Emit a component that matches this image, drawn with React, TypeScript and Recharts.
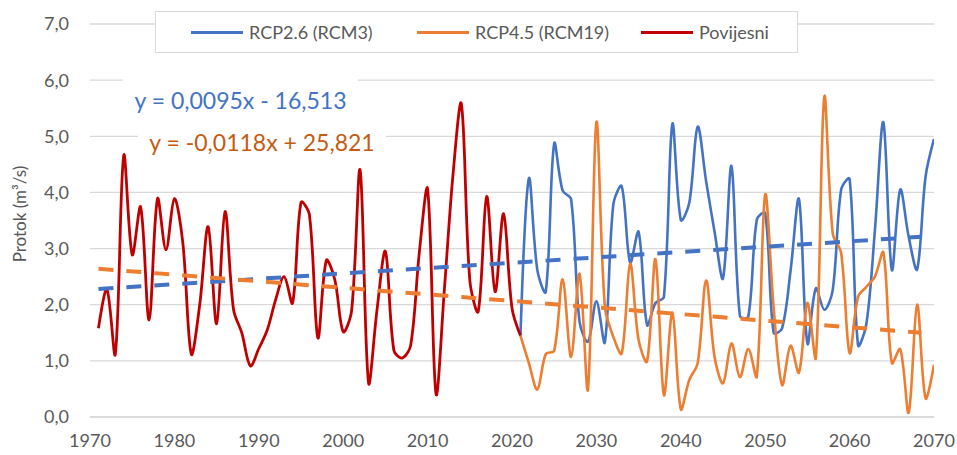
import React from "react";
import { LineChart, Line, XAxis, YAxis, CartesianGrid } from "recharts";

// ---------- data ----------
const histYears = [
  1971, 1972, 1973, 1974, 1975, 1976, 1977, 1978, 1979, 1980,
  1981, 1982, 1983, 1984, 1985, 1986, 1987, 1988, 1989, 1990,
  1991, 1992, 1993, 1994, 1995, 1996, 1997, 1998, 1999, 2000,
  2001, 2002, 2003, 2004, 2005, 2006, 2007, 2008, 2009, 2010,
  2011, 2012, 2013, 2014, 2015, 2016, 2017, 2018, 2019, 2020, 2021,
];
const povijesni = [
  1.58, 2.28, 1.12, 4.66, 2.89, 3.74, 1.73, 3.89, 2.98, 3.89,
  3.1, 1.12, 2.0, 3.39, 1.66, 3.66, 1.92, 1.49, 0.91, 1.22,
  1.55, 2.09, 2.5, 2.03, 3.82, 3.6, 1.41, 2.79, 2.45, 1.52,
  1.9, 4.4, 0.61, 1.9, 2.95, 1.19, 1.05, 1.28, 2.9, 4.06,
  0.41, 2.3, 4.3, 5.58, 2.44, 1.88, 3.93, 2.23, 3.62, 1.94, 1.45,
];

const rcpYears = [
  2021, 2022, 2023, 2024, 2025, 2026, 2027, 2028, 2029, 2030,
  2031, 2032, 2033, 2034, 2035, 2036, 2037, 2038, 2039, 2040,
  2041, 2042, 2043, 2044, 2045, 2046, 2047, 2048, 2049, 2050,
  2051, 2052, 2053, 2054, 2055, 2056, 2057, 2058, 2059, 2060,
  2061, 2062, 2063, 2064, 2065, 2066, 2067, 2068, 2069, 2070,
];
const rcp26 = [
  1.45, 4.25, 2.62, 2.23, 4.87, 4.03, 3.88, 1.7, 1.34, 2.06,
  1.33, 3.78, 4.11, 2.75, 3.3, 1.64, 2.03, 2.14, 5.22, 3.51,
  3.81, 5.17, 4.2, 3.3, 2.47, 4.47, 1.8, 1.79, 3.51, 3.63,
  1.5, 1.58, 2.6, 3.88, 1.31, 2.29, 1.91, 2.26, 4.05, 4.24,
  1.28, 1.67, 3.33, 5.25, 2.62, 4.05, 3.21, 2.63, 4.28, 4.95,
];
const rcp45 = [
  1.45, 0.96, 0.49, 1.12, 1.18, 2.45, 1.07, 2.55, 0.49, 5.25,
  1.97, 1.43, 1.13, 2.73, 1.37, 0.99, 2.81, 0.39, 1.86, 0.14,
  0.66, 0.96, 2.43, 1.07, 0.6, 1.31, 0.71, 1.21, 0.72, 3.96,
  1.95, 0.57, 1.27, 0.79, 2.03, 1.06, 5.7, 3.27, 2.92, 1.14,
  2.14, 2.32, 2.5, 2.93, 0.96, 1.21, 0.08, 2.0, 0.33, 0.93,
];

// trendline end points
const trendYears = [1971, 2068.5];
const trend26 = [2.28, 3.21];
const trend45 = [2.64, 1.5];

const xTicks = [1970, 1980, 1990, 2000, 2010, 2020, 2030, 2040, 2050, 2060, 2070];
const yTicks = [0, 1, 2, 3, 4, 5, 6, 7];

const seriesNames = ["RCP2.6 (RCM3)", "RCP4.5 (RCM19)", "Povijesni"];
const eq26 = "y = 0,0095x - 16,513";
const eq45 = "y = -0,0118x + 25,821";
const yTitle = "Protok (m³/s)";

// ---------- helpers ----------
const zip = (xs: number[], ys: number[]) => xs.map((x, i) => ({ year: x, v: ys[i] }));
const histData = zip(histYears, povijesni);
const rcp26Data = zip(rcpYears, rcp26);
const rcp45Data = zip(rcpYears, rcp45);
const trend26Data = zip(trendYears, trend26);
const trend45Data = zip(trendYears, trend45);

// Excel-like smoothed line: Bezier with chord-length-scaled tangents
function excelSmooth(context: any) {
  let pts: [number, number][] = [];
  const dist = (a: [number, number], b: [number, number]) =>
    Math.hypot(b[0] - a[0], b[1] - a[1]) || 1e-6;
  return {
    areaStart() {},
    areaEnd() {},
    lineStart() {
      pts = [];
    },
    point(x: number, y: number) {
      pts.push([+x, +y]);
    },
    lineEnd() {
      const n = pts.length;
      if (!n) return;
      context.moveTo(pts[0][0], pts[0][1]);
      const k = 0.5;
      for (let i = 0; i < n - 1; i++) {
        const p0 = pts[i - 1] || pts[i];
        const p1 = pts[i];
        const p2 = pts[i + 1];
        const p3 = pts[i + 2] || p2;
        const d01 = dist(p0, p1);
        const d12 = dist(p1, p2);
        const d23 = dist(p2, p3);
        // tangent at p1, control length scaled by chord of this segment
        const f1 = i === 0 ? 0 : (k * d12) / (d01 + d12) * (2 / 3);
        const f2 = i === n - 2 ? 0 : (k * d12) / (d12 + d23) * (2 / 3);
        context.bezierCurveTo(
          p1[0] + (p2[0] - p0[0]) * f1,
          p1[1] + (p2[1] - p0[1]) * f1,
          p2[0] - (p3[0] - p1[0]) * f2,
          p2[1] - (p3[1] - p1[1]) * f2,
          p2[0],
          p2[1]
        );
      }
    },
  };
}

const FONT = "Lato, 'Open Sans', sans-serif";
const GRAY = "#595959";
const BLUE = "#4472C4";
const ORANGE = "#ED7D31";
const RED = "#C00000";

const fmt = (v: number) => v.toFixed(1).replace(".", ",");

export default function App() {
  const legendItems = [
    { name: seriesNames[0], color: BLUE, left: 35 },
    { name: seriesNames[1], color: ORANGE, left: 261 },
    { name: seriesNames[2], color: RED, left: 485 },
  ];
  return (
    <div
      style={{
        position: "absolute",
        left: 0,
        top: 0,
        width: 957,
        height: 455,
        background: "#fff",
        fontFamily: FONT,
      }}
    >
      <LineChart
        width={957}
        height={455}
        margin={{ top: 24, right: 23, bottom: 8, left: 0 }}
      >
        <CartesianGrid vertical={false} stroke="#D9D9D9" strokeWidth={1.3} />
        <XAxis
          type="number"
          dataKey="year"
          domain={[1970, 2070]}
          ticks={xTicks}
          allowDataOverflow
          height={30}
          axisLine={{ stroke: "#D9D9D9", strokeWidth: 1.3 }}
          tickLine={false}
          tickMargin={11}
          tick={{ fill: GRAY, fontSize: 18, fontFamily: FONT }}
        />
        <YAxis
          type="number"
          domain={[0, 7]}
          ticks={yTicks}
          width={90}
          axisLine={false}
          tickLine={false}
          tickMargin={15}
          tickFormatter={fmt}
          tick={{ fill: GRAY, fontSize: 18, fontFamily: FONT }}
        />
        <Line
          data={rcp26Data}
          dataKey="v"
          type={excelSmooth as any}
          stroke={BLUE}
          strokeWidth={2.6}
          dot={false}
          activeDot={false}
          isAnimationActive={false}
        />
        <Line
          data={rcp45Data}
          dataKey="v"
          type={excelSmooth as any}
          stroke={ORANGE}
          strokeWidth={2.6}
          dot={false}
          activeDot={false}
          isAnimationActive={false}
        />
        <Line
          data={histData}
          dataKey="v"
          type={excelSmooth as any}
          stroke={RED}
          strokeWidth={2.8}
          dot={false}
          activeDot={false}
          isAnimationActive={false}
        />
        <Line
          data={trend26Data}
          dataKey="v"
          type="linear"
          stroke={BLUE}
          strokeWidth={4}
          strokeDasharray="15 13"
          dot={false}
          activeDot={false}
          isAnimationActive={false}
        />
        <Line
          data={trend45Data}
          dataKey="v"
          type="linear"
          stroke={ORANGE}
          strokeWidth={4}
          strokeDasharray="15 13"
          dot={false}
          activeDot={false}
          isAnimationActive={false}
        />
      </LineChart>

      {/* legend */}
      <div
        style={{
          position: "absolute",
          left: 155,
          top: 11,
          width: 641,
          height: 40,
          border: "1px solid #D9D9D9",
          background: "#fff",
        }}
      >
        {legendItems.map((it) => (
          <div
            key={it.name}
            style={{
              position: "absolute",
              left: it.left,
              top: 0,
              height: 40,
              display: "flex",
              alignItems: "center",
              whiteSpace: "nowrap",
            }}
          >
            <div style={{ width: 52, height: 3, background: it.color, marginRight: 6 }} />
            <span style={{ color: GRAY, fontSize: 18, fontFamily: FONT }}>{it.name}</span>
          </div>
        ))}
      </div>

      {/* trendline equations */}
      <div
        style={{
          position: "absolute",
          left: 123,
          top: 78,
          width: 235,
          height: 44,
          background: "#fff",
          display: "flex",
          alignItems: "center",
          justifyContent: "center",
          color: BLUE,
          fontSize: 23,
          fontFamily: FONT,
          whiteSpace: "nowrap",
        }}
      >
        {eq26}
      </div>
      <div
        style={{
          position: "absolute",
          left: 138,
          top: 122,
          width: 248,
          height: 40,
          background: "#fff",
          display: "flex",
          alignItems: "center",
          justifyContent: "center",
          color: "#C55A11",
          fontSize: 23,
          fontFamily: FONT,
          whiteSpace: "nowrap",
        }}
      >
        {eq45}
      </div>

      {/* y axis title */}
      <div
        style={{
          position: "absolute",
          left: 19,
          top: 214,
          transform: "translate(-50%, -50%) rotate(-90deg)",
          color: GRAY,
          fontSize: 17,
          fontFamily: FONT,
          whiteSpace: "nowrap",
        }}
      >
        {yTitle}
      </div>
    </div>
  );
}
